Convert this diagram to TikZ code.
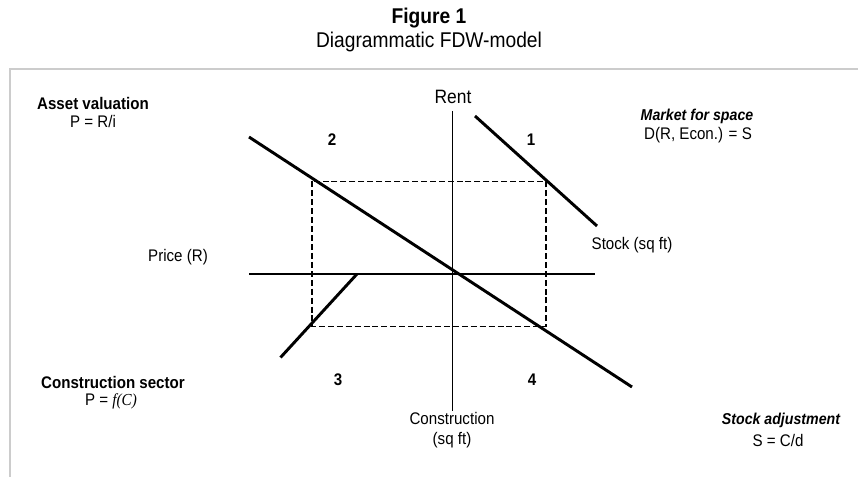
\documentclass[tikz,border=0pt]{standalone}
\usepackage{fontspec}
\setmainfont{Liberation Sans}[FakeStretch=0.9]
\newfontfamily\timesfont{Liberation Serif}[FakeStretch=0.9]
\begin{document}
\begin{tikzpicture}[x=0.75pt,y=-0.75pt,
  lbl/.style={inner sep=0pt,font=\fontsize{12.6}{14}\selectfont},
  blbl/.style={lbl,font=\fontsize{12.6}{14}\selectfont\bfseries},
  bilbl/.style={lbl,font=\fontsize{11.8}{13}\selectfont\bfseries\itshape},
  axis/.style={line width=1.3pt},
  curve/.style={line width=2.2pt},
  guide/.style={line width=1pt,dash pattern=on 4.5pt off 2.2pt}]
\useasboundingbox (0,0) rectangle (858,477);
% frame
\draw[line width=2pt,draw=black!20] (10,477) -- (10,69) -- (858,69);
% titles
\node[inner sep=0pt,font=\fontsize{16}{18}\selectfont\bfseries] (fig) at (429,18) {Figure 1};
\node[inner sep=0pt,font=\fontsize{16}{18}\selectfont] (sub) at (429,42) {Diagrammatic FDW-model};
% axes
\node[inner sep=0pt,font=\fontsize{14.5}{16}\selectfont] (rent) at (453,97) {Rent};
\coordinate (vtop) at (452.5,111);
\coordinate (vbot) at (452.5,411);
\coordinate (hleft) at (249,274);
\coordinate (hright) at (595,274);
\draw[axis] (vtop) -- (vbot);
\draw[axis] (hleft) -- (hright);
% dashed rectangle
\coordinate (r1) at (312,181.5);
\coordinate (r2) at (546,326.5);
\draw[guide] (r1) rectangle (r2);
% curves
\coordinate (la) at (249,137);
\coordinate (lb) at (632,387);
\draw[curve] (la) -- (lb);
\coordinate (oa) at (475,116);
\coordinate (ob) at (597,226);
\draw[curve] (oa) -- (ob);
\coordinate (ta) at (280.5,357.5);
\coordinate (tb) at (357,274);
\draw[curve] (ta) -- (tb);
% quadrant numbers
\node[blbl] (q1) at (531,140) {1};
\node[blbl] (q2) at (332,140) {2};
\node[blbl] (q3) at (338,380) {3};
\node[blbl] (q4) at (532,380) {4};
% axis labels
\node[lbl] (price) at (178,257) {Price (R)};
\node[lbl] (stock) at (632,245) {Stock (sq ft)};
\node[lbl] (constr) at (452,418) {Construction};
\node[lbl] (constr2) at (452,440) {(sq ft)};
% corner labels
\node[blbl] (av) at (93,103) {Asset valuation};
\node[lbl] (avf) at (93,121) {P = R/i};
\node[bilbl] (mfs) at (697,116) {Market for space};
\node[lbl] (mfsf) at (698,135) {D(R, Econ.) = S};
\node[blbl] (cs) at (113,382) {Construction sector};
\node[lbl] (csf) at (111,401) {P = {\timesfont\itshape f(C)}};
\node[bilbl] (sa) at (781,420) {Stock adjustment};
\node[lbl] (saf) at (778,440) {S = C/d};
\end{tikzpicture}
\end{document}
